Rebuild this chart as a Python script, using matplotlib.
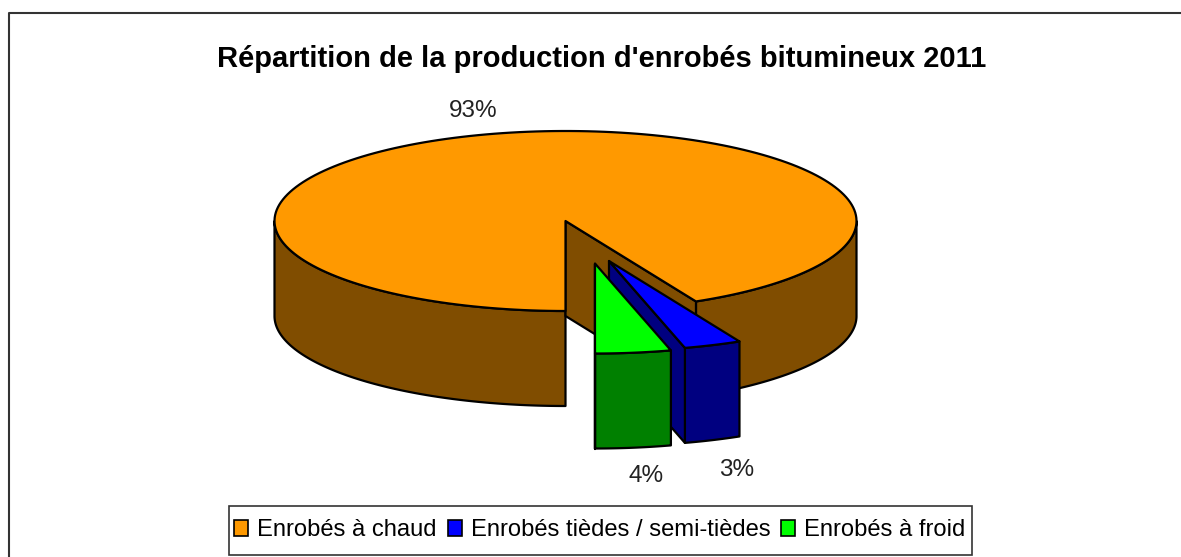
"""
Camembert 3D: repartition de la production d'enrobes bitumineux 2011.
Salida: out.png
"""

import numpy as np
import matplotlib
matplotlib.use("Agg")
import matplotlib.pyplot as plt
from matplotlib.patches import Patch, Rectangle

# -- Datos --
TITLE = "Répartition de la production d'enrobés bitumineux 2011"
categories = ["Enrobés à chaud", "Enrobés tièdes / semi-tièdes", "Enrobés à froid"]
values = [92.6, 3.2, 4.2]

# -- Estilo --
top_colors = ["#FF9900", "#0000FF", "#00FF00"]
side_colors = ["#804D00", "#000080", "#008000"]
explode = [(0, 0), (43.5, 40), (29.5, 42.5)]
label_pos = [(473, 111), (737, 470), (646, 476)]
CX, CY, RX, RY, DEPTH = 565.5, 221, 291, 90, 95

plt.rcParams["font.family"] = ["Liberation Sans", "DejaVu Sans"]

fig = plt.figure(figsize=(11.81, 5.57), dpi=100)
ax = fig.add_axes([0, 0, 1, 1])
ax.set_xlim(0, 1181)
ax.set_ylim(557, 0)
ax.axis("off")


def arc(phi1, phi2, off, drop=0):
    # phi en grados, 0 abajo y creciendo hacia la derecha
    t = np.radians(np.linspace(phi1, phi2, 200))
    return CX + off[0] + RX * np.sin(t), CY + off[1] + drop + RY * np.cos(t)


def sector(phi1, phi2, off, top, side):
    cx, cy = CX + off[0], CY + off[1]
    style = dict(edgecolor="black", linewidth=1.6, joinstyle="round")

    # pared exterior: solo la parte que mira al frente
    for a, b in [(phi1, min(phi2, 90)), (max(phi1, 270), phi2)]:
        if a < b:
            x, y = arc(a, b, off)
            xb, yb = arc(b, a, off, DEPTH)
            ax.fill(np.r_[x, xb], np.r_[y, yb], facecolor=side, **style)

    # cara del corte
    x0, y0 = arc(phi1, phi1, off)
    ax.fill([cx, x0[0], x0[0], cx], [cy, y0[0], y0[0] + DEPTH, cy + DEPTH],
            facecolor=side, **style)

    # tapa
    x, y = arc(phi1, phi2, off)
    ax.fill(np.r_[cx, x], np.r_[cy, y], facecolor=top, **style)


# -- Sectores: el primero parte de abajo en sentido horario --
end = 360.0
for val, off, top, side in zip(values, explode, top_colors, side_colors):
    span = val / sum(values) * 360
    sector(end - span, end, off, top, side)
    end -= span

for val, (x, y) in zip(values, label_pos):
    ax.text(x, y, f"{val:.0f}%", ha="center", va="center", fontsize=17.5, color="#222222")

ax.text(601.5, 59, TITLE, ha="center", va="center", fontsize=21, fontweight="bold")

# -- Marco --
ax.plot([9, 9, 1181], [557, 13, 13], color="#333333", linewidth=1.5)

# -- Leyenda: el recuadro va aparte para fijar su alto --
ax.add_patch(Rectangle((228.5, 505.5), 743, 49.5, facecolor="white", edgecolor="#333333", linewidth=1.2))
handles = [Patch(facecolor=c, edgecolor="black", linewidth=1.2) for c in top_colors]
ax.legend(handles, categories, ncols=3, loc="center", bbox_to_anchor=(600 / 1181, 1 - 530 / 557),
          fontsize=17.1, frameon=False, handlelength=0.59, handleheight=0.68,
          handletextpad=0.38, columnspacing=0.46, borderpad=0, borderaxespad=0)

fig.savefig("out.png", dpi=100)
print("[OK] out.png")
